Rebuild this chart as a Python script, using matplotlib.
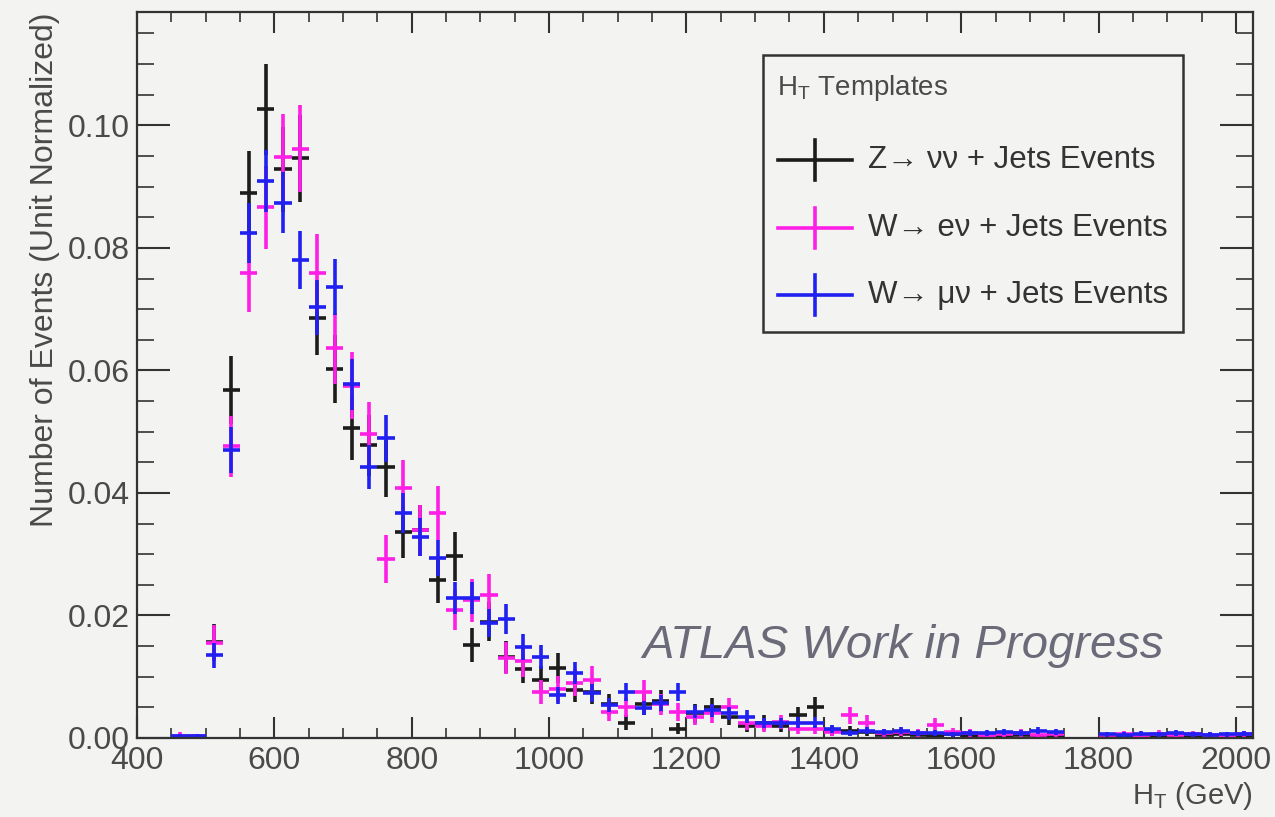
import matplotlib.pyplot as plt
import numpy as np
from matplotlib.ticker import MultipleLocator, FormatStrFormatter
from matplotlib.patches import Rectangle

# 25 GeV bins from 450 to 2025 GeV
bin_lo = 450
bin_width = 25
ht_bins = np.arange(bin_lo + bin_width / 2., 2025, bin_width)

z_nunu = [0, 0, 0.0157, 0.0568, 0.0889, 0.1026, 0.0928, 0.0946, 0.0685, 0.0602,
          0.0506, 0.0478, 0.0442, 0.0336, 0.0339, 0.0258, 0.0297, 0.0152, 0.0190, 0.0132,
          0.0113, 0.0095, 0.0114, 0.0078, 0.0075, 0.0055, 0.0025, 0.0055, 0.0060, 0.0015,
          0.0040, 0.0050, 0.0035, 0.0020, 0.0025, 0.0020, 0.0037, 0.0051, 0.0012, 0.0012,
          0.0010, 0.0005, 0.0007, 0.0005, 0.0004, 0.0006, 0.0004, 0.0003, 0.0004, 0.0005,
          0.0003, 0.0004, 0, 0, 0.0004, 0.0003, 0.0005, 0.0004, 0.0003, 0.0004,
          0.0003, 0.0004, 0.0003]
z_nunu_err = [0, 0, 0.0029, 0.0055, 0.0069, 0.0074, 0.0070, 0.0071, 0.0060, 0.0056,
              0.0052, 0.0050, 0.0048, 0.0042, 0.0042, 0.0037, 0.0040, 0.0028, 0.0032, 0.0026,
              0.0024, 0.0022, 0.0025, 0.0020, 0.0020, 0.0017, 0.0012, 0.0017, 0.0018, 0.0009,
              0.0015, 0.0016, 0.0014, 0.0010, 0.0012, 0.0010, 0.0014, 0.0016, 0.0008, 0.0008,
              0.0007, 0.0005, 0.0006, 0.0005, 0.0005, 0.0006, 0.0005, 0.0004, 0.0005, 0.0005,
              0.0004, 0.0005, 0, 0, 0.0005, 0.0004, 0.0005, 0.0005, 0.0004, 0.0005,
              0.0004, 0.0005, 0.0004]

w_enu = [0.0004, 0.0003, 0.0155, 0.0476, 0.0759, 0.0866, 0.0948, 0.0962, 0.0759, 0.0636,
         0.0575, 0.0497, 0.0292, 0.0408, 0.0339, 0.0367, 0.0209, 0.0225, 0.0233, 0.0131,
         0.0125, 0.0075, 0.0080, 0.0090, 0.0095, 0.0042, 0.0050, 0.0075, 0.0055, 0.0042,
         0.0035, 0.0040, 0.0050, 0.0025, 0.0020, 0.0026, 0.0015, 0.0015, 0.0010, 0.0037,
         0.0025, 0.0008, 0.0010, 0.0008, 0.0021, 0.0010, 0.0008, 0.0004, 0.0006, 0.0008,
         0.0005, 0.0006, 0, 0, 0.0005, 0.0006, 0.0004, 0.0007, 0.0005, 0.0006,
         0.0005, 0.0004, 0.0006]
w_enu_err = [0.0005, 0.0004, 0.0029, 0.0050, 0.0063, 0.0068, 0.0071, 0.0071, 0.0063, 0.0058,
             0.0055, 0.0051, 0.0039, 0.0046, 0.0042, 0.0044, 0.0033, 0.0035, 0.0035, 0.0026,
             0.0026, 0.0020, 0.0021, 0.0022, 0.0022, 0.0015, 0.0016, 0.0020, 0.0017, 0.0015,
             0.0014, 0.0015, 0.0016, 0.0012, 0.0010, 0.0012, 0.0009, 0.0009, 0.0007, 0.0014,
             0.0012, 0.0007, 0.0007, 0.0007, 0.0011, 0.0007, 0.0007, 0.0005, 0.0006, 0.0007,
             0.0005, 0.0006, 0, 0, 0.0005, 0.0006, 0.0005, 0.0006, 0.0005, 0.0006,
             0.0005, 0.0005, 0.0006]

w_munu = [0.0003, 0.0004, 0.0135, 0.0470, 0.0825, 0.0909, 0.0874, 0.0780, 0.0703, 0.0736,
          0.0577, 0.0442, 0.0489, 0.0367, 0.0328, 0.0294, 0.0228, 0.0228, 0.0188, 0.0194,
          0.0149, 0.0132, 0.0070, 0.0106, 0.0073, 0.0054, 0.0075, 0.0049, 0.0057, 0.0075,
          0.0043, 0.0045, 0.0040, 0.0035, 0.0024, 0.0024, 0.0025, 0.0025, 0.0015, 0.0008,
          0.0012, 0.0010, 0.0012, 0.0008, 0.0008, 0.0006, 0.0008, 0.0008, 0.0010, 0.0008,
          0.0012, 0.0010, 0, 0, 0.0006, 0.0005, 0.0007, 0.0006, 0.0008, 0.0006,
          0.0005, 0.0006, 0.0007]
w_munu_err = [0.0003, 0.0003, 0.0020, 0.0037, 0.0049, 0.0051, 0.0050, 0.0047, 0.0045, 0.0046,
              0.0041, 0.0036, 0.0038, 0.0033, 0.0031, 0.0029, 0.0026, 0.0026, 0.0023, 0.0024,
              0.0021, 0.0020, 0.0014, 0.0018, 0.0015, 0.0012, 0.0015, 0.0012, 0.0013, 0.0015,
              0.0011, 0.0011, 0.0011, 0.0010, 0.0008, 0.0008, 0.0009, 0.0009, 0.0007, 0.0005,
              0.0006, 0.0005, 0.0006, 0.0005, 0.0005, 0.0004, 0.0005, 0.0005, 0.0005, 0.0005,
              0.0006, 0.0005, 0, 0, 0.0004, 0.0004, 0.0004, 0.0004, 0.0005, 0.0004,
              0.0004, 0.0004, 0.0004]

labels = [u'Z\u2192 \u03bd\u03bd + Jets Events',
          u'W\u2192 e\u03bd + Jets Events',
          u'W\u2192 \u03bc\u03bd + Jets Events']
colors = ['#1c1c1c', '#ff1ee6', '#2020f0']

bg = '#f3f3f2'
axcol = '#333333'
txtcol = '#4a4a4a'

plt.rcParams['font.family'] = ['Liberation Sans', 'DejaVu Sans']
plt.rcParams['mathtext.fontset'] = 'custom'
plt.rcParams['mathtext.rm'] = 'Liberation Sans'

fig = plt.figure(figsize=(12.75, 8.17), dpi=100, facecolor=bg)
ax = fig.add_axes([0.1075, 0.0967, 0.8753, 0.8886], facecolor=bg)

series = [(z_nunu, z_nunu_err), (w_enu, w_enu_err), (w_munu, w_munu_err)]
for (vals, errs), col in zip(series, colors):
    vals = np.array(vals)
    errs = np.array(errs)
    m = vals > 0
    ax.errorbar(ht_bins[m], vals[m], xerr=bin_width / 2., yerr=errs[m],
                fmt='none', ecolor=col, elinewidth=2.6, capsize=0)
#endfor

ax.set_xlim(400, 2025)
ax.set_ylim(0, 0.1185)
ax.xaxis.set_major_locator(MultipleLocator(200))
ax.xaxis.set_minor_locator(MultipleLocator(50))
ax.yaxis.set_major_locator(MultipleLocator(0.02))
ax.yaxis.set_minor_locator(MultipleLocator(0.005))
ax.yaxis.set_major_formatter(FormatStrFormatter('%.2f'))

for s in ax.spines.values():
    s.set_color(axcol)
    s.set_linewidth(1.6)

ax.tick_params(which='both', direction='in', top=True, right=True,
               color=axcol, labelcolor=txtcol, labelsize=23)
ax.tick_params(axis='x', which='major', length=15, width=1.5, pad=6)
ax.tick_params(axis='x', which='minor', length=7.5, width=1.2)
ax.tick_params(axis='y', which='major', length=24, width=1.5, pad=5)
ax.tick_params(axis='y', which='minor', length=12, width=1.2)

ax.set_xlabel(r'H$_\mathregular{T}$ (GeV)', loc='right', fontsize=21,
              color=txtcol, labelpad=3)
ax.set_ylabel('Number of Events (Unit Normalized)', loc='top', fontsize=23,
              color=txtcol, labelpad=6)

ax.text(1135, 0.013, 'ATLAS Work in Progress', style='italic', fontsize=34,
        color='#6a6a78', va='baseline')

# legend box drawn by hand, ROOT style
ax.add_patch(Rectangle((0.561, 0.559), 0.376, 0.382, transform=ax.transAxes,
                       facecolor=bg, edgecolor=axcol, lw=1.8, zorder=5))
ax.text(0.5735, 0.895, r'H$_\mathregular{T}$ Templates', transform=ax.transAxes,
        fontsize=20, color=txtcol, va='center', zorder=6)
rows = [0.796, 0.702, 0.610]
for y, lab, col in zip(rows, labels, colors):
    ax.plot([0.5745, 0.6405], [y, y], transform=ax.transAxes, color=col, lw=2.6, zorder=6)
    ax.plot([0.6075, 0.6075], [y - 0.0275, y + 0.0275], transform=ax.transAxes,
            color=col, lw=2.6, zorder=6)
    ax.text(0.655, y, lab, transform=ax.transAxes, fontsize=22.5, color='#333333',
            va='center', zorder=6)
#endfor

plt.savefig('out.png', dpi=100, facecolor=bg)
plt.close()
